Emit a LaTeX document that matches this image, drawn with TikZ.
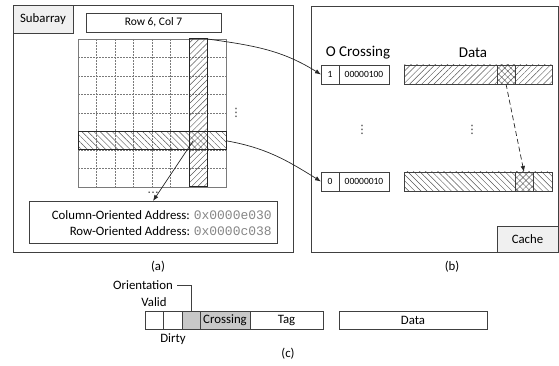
\documentclass[tikz,border=0pt]{standalone}
\usepackage{fontspec}
\setmainfont{Carlito}
\newfontfamily\hexfont{Liberation Mono}
\newfontfamily\symfont{DejaVu Sans}
\usetikzlibrary{patterns.meta,arrows.meta}

\definecolor{linec}{HTML}{404040}
\definecolor{gridc}{HTML}{7A7A7A}
\definecolor{hatchc}{HTML}{555555}
\definecolor{tagfill}{HTML}{F0F0F0}
\definecolor{bitfill}{HTML}{C8C8C8}
\definecolor{hexc}{HTML}{858585}

\tikzset{
  box/.style={draw=linec, line width=0.8pt, inner sep=0pt, outer sep=0pt,
    anchor=north west},
  tagbox/.style={box, fill=tagfill},
  cellbox/.style={draw=linec, line width=0.6pt, inner sep=0pt, outer sep=0pt,
    anchor=north west},
  hl/.style={draw=black!85, line width=1pt, inner sep=0pt, outer sep=0pt,
    anchor=north west},
  nelines/.style={pattern={Lines[angle=45,distance=4.3pt,line width=0.45pt]},
    pattern color=hatchc},
  nwlines/.style={pattern={Lines[angle=-45,distance=4.3pt,line width=0.45pt]},
    pattern color=hatchc},
  gridline/.style={draw=gridc, line width=0.6pt, dash pattern=on 1.6pt off 1.4pt},
  link/.style={draw=black!85, line width=0.7pt, -{Latex[length=6pt,width=4.5pt]}},
  lbl/.style={inner sep=0pt},
  ellip/.style={inner sep=0pt, text=black!80, font=\symfont\fontsize{11.5}{12}\selectfont},
  small/.style={font=\fontsize{9.5}{11}\selectfont},
  head/.style={font=\fontsize{15}{17}\selectfont},
}

\begin{document}
\begin{tikzpicture}[x=1pt, y=-1pt, font=\fontsize{12.8}{15}\selectfont]
\useasboundingbox (0,0) rectangle (559,366);

% ---------- (a) subarray ----------
\node[box, minimum width=280pt, minimum height=247pt] (subarray) at (13,5) {};
\node[tagbox, minimum width=60pt, minimum height=28pt] (subtag) at (13,5) {Subarray};
\node[box, minimum width=135pt, minimum height=19pt, font=\fontsize{11.5}{13}\selectfont]
  (rowcol) at (86,13) {Row 6, Col 7};

% cell grid, 8 x 8
\node[box, draw=gridc, minimum width=148pt, minimum height=148pt] (grid) at (78,39) {};
\foreach \i in {1,...,7} {
  \draw[gridline] (78+\i*18.5,39) -- (78+\i*18.5,187);
  \draw[gridline] (78,39+\i*18.5) -- (226,39+\i*18.5);
}
% selected column and row; their overlap is cross-hatched
\node[hl, nelines, minimum width=18.5pt, minimum height=148pt] (col) at (189,39) {};
\node[hl, nwlines, minimum width=148pt, minimum height=18.5pt] (row) at (78,131.5) {};
\node[hl, fill=none, minimum width=18.5pt, minimum height=18.5pt] (isect) at (189,131.5) {};

\node[ellip] (vdotsA) at (236,113) {⋮};
\node[ellip] (hdotsA) at (153,193) {…};

\node[box, minimum width=248pt, minimum height=42pt] (addr) at (29,201) {};
\node[lbl, anchor=east] (colAddr) at (272,215.5)
  {Column-Oriented Address: {\hexfont\fontsize{13}{15}\selectfont\color{hexc}0x0000e030}};
\node[lbl, anchor=east] (rowAddr) at (272,231.5)
  {Row-Oriented Address: {\hexfont\fontsize{13}{15}\selectfont\color{hexc}0x0000c038}};

\coordinate (isectOut) at ([xshift=-5pt]isect.center);
\draw[link] (isectOut) -- (153,201);

\node[lbl] (capA) at (158,267) {(a)};

% ---------- (b) cache ----------
\node[box, minimum width=247pt, minimum height=246pt] (cache) at (311,6) {};
\node[tagbox, minimum width=61pt, minimum height=26pt] (cachetag) at (497,226) {Cache};

\node[lbl, head] (hdrTag) at (358,53) {O Crossing};
\node[lbl, head] (hdrData) at (473,53) {Data};

% first line (column-oriented)
\node[cellbox, small, minimum width=18pt, minimum height=19pt] (bitA) at (321,65) {1};
\node[cellbox, small, minimum width=50pt, minimum height=19pt] (crossA) at (339,65) {00000100};
\node[cellbox, nelines, minimum width=148pt, minimum height=19pt] (dataA) at (404,65) {};
\node[cellbox, nwlines, minimum width=18pt, minimum height=19pt] (hitA) at (497,65) {};

% second line (row-oriented)
\node[cellbox, small, minimum width=18pt, minimum height=19pt] (bitB) at (321,172) {0};
\node[cellbox, small, minimum width=50pt, minimum height=19pt] (crossB) at (339,172) {00000010};
\node[cellbox, nwlines, minimum width=148pt, minimum height=19pt] (dataB) at (404,172) {};
\node[cellbox, nelines, minimum width=18pt, minimum height=19pt] (hitB) at (515,172) {};

\node[ellip] (vdotsB) at (362,130) {⋮};
\node[ellip] (vdotsC) at (472,130) {⋮};

\draw[link, dashed, dash pattern=on 5pt off 3pt] (hitA.south) -- (hitB.north);

\draw[link] (col.north east) to[out=-8, in=148] (bitA.west);
\draw[link] (row.east) to[out=-10, in=148] (bitB.west);

\node[lbl] (capB) at (452,267) {(b)};

% ---------- (c) cache line layout ----------
\node[cellbox, minimum width=18pt, minimum height=18pt] (valid) at (145,311) {};
\node[cellbox, minimum width=19pt, minimum height=18pt] (dirty) at (163,311) {};
\node[cellbox, fill=bitfill, minimum width=18pt, minimum height=18pt] (orient) at (182,311) {};
\node[cellbox, fill=bitfill, minimum width=50pt, minimum height=18pt] (crossing) at (200,311) {Crossing};
\node[cellbox, minimum width=73pt, minimum height=18pt] (tag) at (250,311) {Tag};
\node[cellbox, minimum width=148pt, minimum height=18pt] (line) at (339,311) {Data};

\node[lbl, anchor=east] (olabel) at (173,285) {Orientation};
\draw[draw=linec, line width=0.7pt] ([xshift=4pt]olabel.east) -| (orient.north);
\node[lbl] (vlabel) at (154,302) {Valid};
\node[lbl] (dlabel) at (173,339) {Dirty};

\node[lbl] (capC) at (288,354) {(c)};
\end{tikzpicture}
\end{document}
